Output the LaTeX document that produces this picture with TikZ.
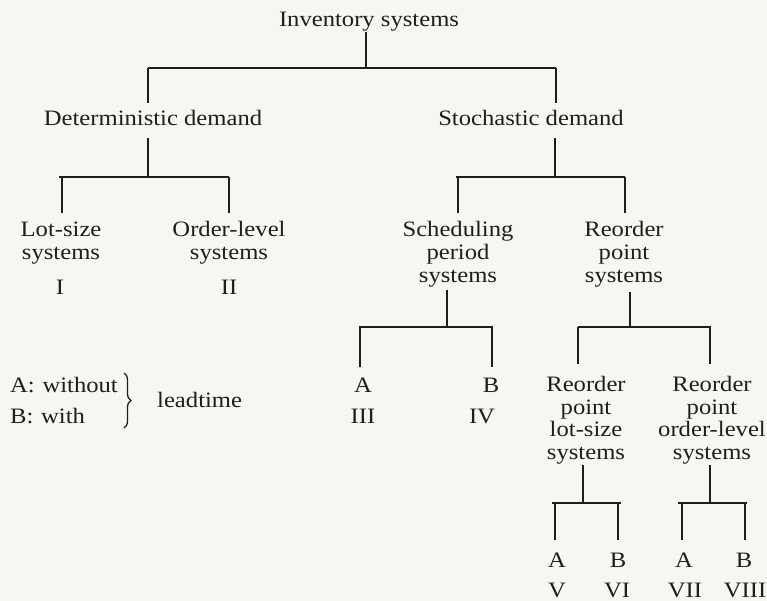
\documentclass[tikz,border=0pt]{standalone}
\usepackage{fontspec}
\setmainfont{Liberation Serif}[FakeStretch=1.12]
\usetikzlibrary{decorations.pathreplacing}
\definecolor{ink}{RGB}{30,30,30}
\definecolor{paper}{RGB}{246,246,243}
\tikzset{
  lbl/.style={font=\fontsize{22}{22.5}\selectfont, align=center, inner sep=0pt, anchor=base, text=ink},
  lblw/.style={lbl, anchor=base west, align=left},
  ln/.style={draw=ink, line width=1.4pt}
}
\begin{document}
\begin{tikzpicture}[x=1pt,y=-1pt]
\fill[paper] (0,0) rectangle (767,601);
\useasboundingbox (0,0) rectangle (767,601);

% nodes (base anchor = baseline of last line)
\node[lbl] (inv) at (369,27) {Inventory systems};
\node[lbl] (det) at (153,126) {Deterministic demand};
\node[lbl] (sto) at (531,126) {Stochastic demand};
\node[lbl] (lot) at (61,259.5) {Lot-size\\systems};
\node[lbl] (ol) at (229,259.5) {Order-level\\systems};
\node[lbl] (sch) at (458,282) {Scheduling\\period\\systems};
\node[lbl] (rp) at (624,282) {Reorder\\point\\systems};
\node[lbl] (n1) at (60,294) {I};
\node[lbl] (n2) at (229,294) {II};
\node[lbl] (sa) at (363,392) {A};
\node[lbl] (sb) at (491,392) {B};
\node[lbl] (n3) at (363,423) {III};
\node[lbl] (n4) at (482,423) {IV};
\node[lbl] (rpl) at (586,459) {Reorder\\point\\lot-size\\systems};
\node[lbl] (rpo) at (712,459) {Reorder\\point\\order-level\\systems};
\node[lbl] (la) at (557,567) {A};
\node[lbl] (lb) at (618,567) {B};
\node[lbl] (oa) at (684,567) {A};
\node[lbl] (ob) at (744,567) {B};
\node[lbl] (n5) at (557,597) {V};
\node[lbl] (n6) at (617,597) {VI};
\node[lbl] (n7) at (685,597) {VII};
\node[lbl] (n8) at (745,597) {VIII};
\node[lblw] (aw) at (10,392) {A:\hspace{0.35em}without};
\node[lblw] (bw) at (10,423) {B:\hspace{0.35em}with};
\node[lblw] (lt) at (157,407) {leadtime};

% junction coordinates
\coordinate (j0) at (366,68);  \coordinate (j0l) at (148,68);  \coordinate (j0r) at (556,68);
\coordinate (j1) at (148,177); \coordinate (j1l) at (62,177);  \coordinate (j1r) at (229,177);
\coordinate (j2) at (555,177); \coordinate (j2l) at (456,177); \coordinate (j2r) at (625,177);
\coordinate (j3) at (447,327); \coordinate (j3l) at (359,327); \coordinate (j3r) at (493,327);
\coordinate (j4) at (630,327); \coordinate (j4l) at (578,327); \coordinate (j4r) at (711,327);
\coordinate (j5) at (583,503); \coordinate (j5l) at (555,503); \coordinate (j5r) at (618,503);
\coordinate (j6) at (710,503); \coordinate (j6l) at (682,503); \coordinate (j6r) at (745,503);

% level 0
\draw[ln] (inv.south -| j0) -- (j0);
\draw[ln] (j0l) -- (j0r);
\draw[ln, shorten >=8pt] (j0l) -- (j0l |- det.north);
\draw[ln, shorten >=8pt] (j0r) -- (j0r |- sto.north);
% deterministic
\draw[ln, shorten <=12pt] (det.south -| j1) -- (j1);
\draw[ln] ([xshift=-3pt]j1l) -- (j1r);
\draw[ln, shorten >=9pt] (j1l) -- (j1l |- lot.north);
\draw[ln, shorten >=9pt] (j1r) -- (j1r |- ol.north);
% stochastic
\draw[ln, shorten <=12pt] (sto.south -| j2) -- (j2);
\draw[ln] (j2l) -- (j2r);
\draw[ln, shorten >=9pt] ([xshift=2pt]j2l) -- ([xshift=2pt]j2l |- sch.north);
\draw[ln, shorten >=9pt] (j2r) -- (j2r |- rp.north);
% scheduling
\draw[ln, shorten <=3pt] (sch.south -| j3) -- (j3);
\draw[ln] (j3l) -- (j3r);
\draw[ln, shorten >=10pt] ([xshift=1pt]j3l) -- ([xshift=1pt]j3l |- sa.north);
\draw[ln, shorten >=10pt] ([xshift=-1pt]j3r) -- ([xshift=-1pt]j3r |- sb.north);
% reorder point
\draw[ln, shorten <=5pt] (rp.south -| j4) -- (j4);
\draw[ln] (j4l) -- (j4r);
\draw[ln, shorten >=12pt] (j4l) -- (j4l |- rpl.north);
\draw[ln, shorten >=12pt] ([xshift=-1pt]j4r) -- ([xshift=-1pt]j4r |- rpo.north);
% lot-size reorder
\draw[ln, shorten <=1pt] (rpl.south -| j5) -- (j5);
\draw[ln] ([xshift=-3pt]j5l) -- ([xshift=3pt]j5r);
\draw[ln, shorten >=12pt] (j5l) -- (j5l |- la.north);
\draw[ln, shorten >=12pt] (j5r) -- (j5r |- lb.north);
% order-level reorder
\draw[ln, shorten <=1pt] (rpo.south -| j6) -- (j6);
\draw[ln] ([xshift=-4pt]j6l) -- ([xshift=2pt]j6r);
\draw[ln, shorten >=12pt] (j6l) -- (j6l |- oa.north);
\draw[ln, shorten >=12pt] (j6r) -- (j6r |- ob.north);

% brace
\coordinate (br1) at (124,373);
\coordinate (br2) at (124,428);
\draw[draw=ink, line width=1.3pt, decorate, decoration={brace, amplitude=7pt}] (br1) -- (br2);
\end{tikzpicture}
\end{document}
